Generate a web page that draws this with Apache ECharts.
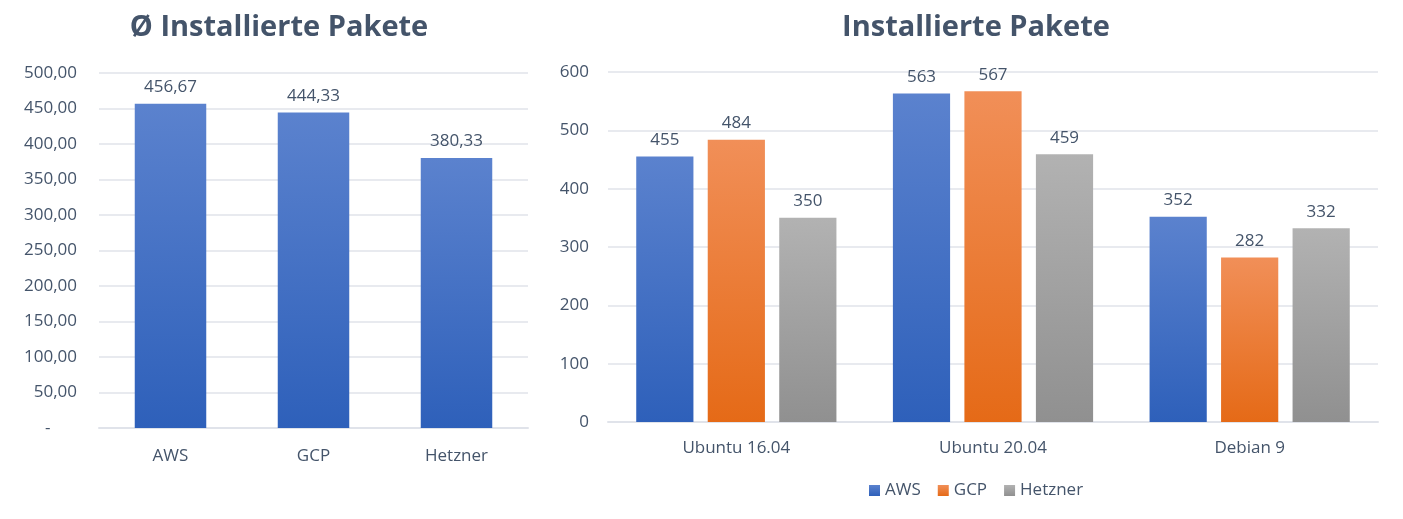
<!DOCTYPE html>
<html><head><meta charset="utf-8">
<script src="https://cdn.jsdelivr.net/npm/echarts@6/dist/echarts.min.js"></script>
<style>html,body{margin:0;padding:0;background:#fff}#c{width:1403px;height:519px}</style>
</head><body><div id="c"></div>
<script>
const avgCategories = ['AWS', 'GCP', 'Hetzner'];
const avgValues = [456.67, 444.33, 380.33];
const osCategories = ['Ubuntu 16.04', 'Ubuntu 20.04', 'Debian 9'];
const awsValues = [455, 563, 352];
const gcpValues = [484, 567, 282];
const hetznerValues = [350, 459, 332];
const seriesNames = ['AWS', 'GCP', 'Hetzner'];

const font = '"Open Sans", "Noto Sans", sans-serif';
const txt = '#44546A';
function grad(top, bottom) {
  return new echarts.graphic.LinearGradient(0, 0, 0, 1, [{offset: 0, color: top}, {offset: 1, color: bottom}]);
}
const blue = grad('#5B82CE', '#2E60BA');
const orange = grad('#F18F58', '#E56A17');
const gray = grad('#B2B2B2', '#909090');
const de = v => v.toFixed(2).replace('.', ',');

const chart = echarts.init(document.getElementById('c'));
const fs = 17;
const lbl = {show: true, position: 'top', distance: 8, color: txt, fontSize: fs, fontFamily: font};
chart.setOption({
  animation: false,
  title: [
    {text: 'Ø Installierte Pakete', left: 274, top: 8, textAlign: 'center',
     textStyle: {fontFamily: font, fontSize: 29, fontWeight: 'bold', color: txt}},
    {text: 'Installierte Pakete', left: 971, top: 8, textAlign: 'center',
     textStyle: {fontFamily: font, fontSize: 29, fontWeight: 'bold', color: txt}}
  ],
  legend: {
    data: seriesNames, bottom: 15, left: 864, itemWidth: 11, itemHeight: 11, itemGap: 17,
    icon: 'rect', textStyle: {fontFamily: font, fontSize: fs, color: txt}
  },
  grid: [
    {left: 99, width: 429, top: 73, height: 355},
    {left: 608, width: 770, top: 72, height: 350}
  ],
  xAxis: [
    {type: 'category', gridIndex: 0, data: avgCategories, axisTick: {show: false},
     axisLine: {lineStyle: {color: '#E0E3EA', width: 2}},
     axisLabel: {color: txt, fontSize: fs, fontFamily: font, margin: 20}},
    {type: 'category', gridIndex: 1, data: osCategories, axisTick: {show: false},
     axisLine: {lineStyle: {color: '#E0E3EA', width: 2}},
     axisLabel: {color: txt, fontSize: fs, fontFamily: font, margin: 18}}
  ],
  yAxis: [
    {type: 'value', gridIndex: 0, min: 0, max: 500, interval: 50,
     axisLine: {show: false}, axisTick: {show: false},
     splitLine: {lineStyle: {color: '#E0E3EA', width: 1.5}},
     axisLabel: {color: txt, fontSize: fs, fontFamily: font, margin: 22,
       formatter: v => v === 0 ? '-      ' : de(v)}},
    {type: 'value', gridIndex: 1, min: 0, max: 600, interval: 100,
     axisLine: {show: false}, axisTick: {show: false},
     splitLine: {lineStyle: {color: '#E0E3EA', width: 1.5}},
     axisLabel: {color: txt, fontSize: fs, fontFamily: font, margin: 19}}
  ],
  series: [
    {type: 'bar', xAxisIndex: 0, yAxisIndex: 0, data: avgValues, barCategoryGap: '50%',
     itemStyle: {color: blue}, label: Object.assign({}, lbl, {formatter: p => de(p.value)})},
    {name: 'AWS', type: 'bar', xAxisIndex: 1, yAxisIndex: 1, data: awsValues,
     barCategoryGap: '22%', barGap: '25%', itemStyle: {color: blue}, label: lbl},
    {name: 'GCP', type: 'bar', xAxisIndex: 1, yAxisIndex: 1, data: gcpValues,
     barCategoryGap: '22%', barGap: '25%', itemStyle: {color: orange}, label: lbl},
    {name: 'Hetzner', type: 'bar', xAxisIndex: 1, yAxisIndex: 1, data: hetznerValues,
     barCategoryGap: '22%', barGap: '25%', itemStyle: {color: gray}, label: lbl}
  ]
});
</script></body></html>
